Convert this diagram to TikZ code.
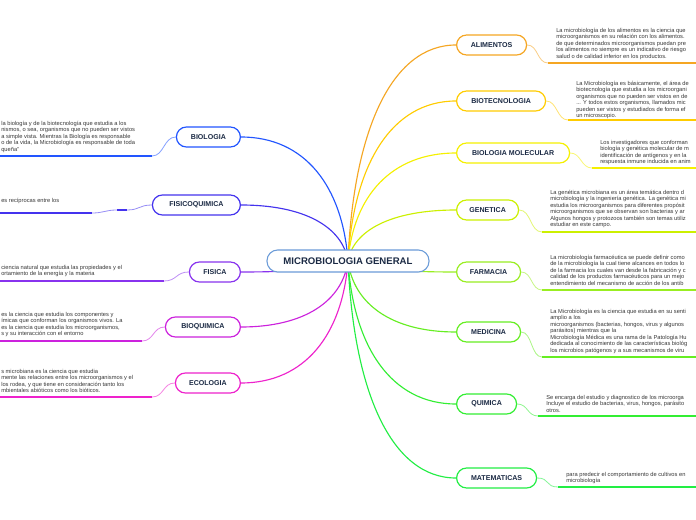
\documentclass[tikz,border=0pt]{standalone}
\usepackage{fontspec}
\setmainfont{Liberation Sans}
\usetikzlibrary{backgrounds}
\definecolor{cRoot}{HTML}{6A9BD8}
\definecolor{cAli}{HTML}{F5A623}
\definecolor{cBiot}{HTML}{FFCC00}
\definecolor{cMol}{HTML}{F5F000}
\definecolor{cGen}{HTML}{CCF000}
\definecolor{cFar}{HTML}{99EE22}
\definecolor{cMed}{HTML}{66EE22}
\definecolor{cQui}{HTML}{33EE33}
\definecolor{cMat}{HTML}{22EE44}
\definecolor{cBio}{HTML}{2255FF}
\definecolor{cFq}{HTML}{4433EE}
\definecolor{cFis}{HTML}{8833EE}
\definecolor{cBq}{HTML}{CC22DD}
\definecolor{cEco}{HTML}{EE22CC}
\definecolor{nodetext}{HTML}{1B2A44}
\definecolor{desctext}{HTML}{383838}
\begin{document}
\begin{tikzpicture}[x=0.75pt,y=-0.75pt,
  topic/.style={draw=#1, fill=white, rounded corners=7.5pt, line width=0.9pt,
    minimum height=15pt, inner sep=0pt, text=nodetext,
    font=\fontsize{5.3}{6}\selectfont\bfseries},
  rootbox/.style={draw=cRoot, fill=white, rounded corners=8pt, line width=0.8pt,
    minimum height=16.5pt, minimum width=121.5pt, inner sep=0pt, text=nodetext,
    font=\fontsize{7.2}{8.5}\selectfont\bfseries},
  desc/.style={font=\fontsize{4.3}{4.85}\selectfont, text=desctext, align=left,
    inner sep=0pt, anchor=north west},
  conn/.style={draw=#1, line width=0.85pt},
  uline/.style={draw=#1, line width=1.5pt},
  subc/.style={draw=#1!55, line width=0.6pt}
]
\useasboundingbox (0,0) rectangle (696,520);

% root
\node[rootbox] (root) at (348,261) {MICROBIOLOGIA GENERAL};
\coordinate (hub) at (348,261);

% right topics
\node[topic=cAli, minimum width=52.5pt, anchor=west] (ali) at (456,45) {ALIMENTOS};
\node[topic=cBiot, minimum width=66.75pt, anchor=west] (biot) at (456,101) {BIOTECNOLOGIA};
\node[topic=cMol, minimum width=84.75pt, anchor=west] (mol) at (456,153) {BIOLOGIA MOLECULAR};
\node[topic=cGen, minimum width=46.5pt, anchor=west] (gen) at (456,210) {GENETICA};
\node[topic=cFar, minimum width=48pt, anchor=west] (far) at (456,272) {FARMACIA};
\node[topic=cMed, minimum width=48pt, anchor=west] (med) at (456,332) {MEDICINA};
\node[topic=cQui, minimum width=45pt, anchor=west] (qui) at (456,404) {QUIMICA};
\node[topic=cMat, minimum width=60pt, anchor=west] (mat) at (456,478) {MATEMATICAS};

% left topics
\node[topic=cBio, minimum width=48pt, anchor=east] (bio) at (241,137) {BIOLOGIA};
\node[topic=cFq, minimum width=66pt, anchor=east] (fq) at (241,205) {FISICOQUIMICA};
\node[topic=cFis, minimum width=38.25pt, anchor=east] (fis) at (241,272) {FISICA};
\node[topic=cBq, minimum width=56.25pt, anchor=east] (bq) at (241,327) {BIOQUIMICA};
\node[topic=cEco, minimum width=48.75pt, anchor=east] (eco) at (241,383) {ECOLOGIA};

% right descriptions
\node[desc] (tali) at (556,28) {La microbiología de los alimentos es la ciencia que\\
microorganismos en su relación con los alimentos.\\
de que determinados microorganismos puedan pre\\
los alimentos no siempre es un indicativo de riesgo\\
salud o de calidad inferior en los productos.};
\node[desc] (tbiot) at (576,81) {La Microbiología es básicamente, el área de\\
biotecnología que estudia a los microorgani\\
organismos que no pueden ser vistos en de\\
... Y todos estos organismos, llamados mic\\
pueden ser vistos y estudiados de forma ef\\
un microscopio.};
\node[desc] (tmol) at (600,140) {Los investigadores que conforman\\
biología y genética molecular de m\\
identificación de antígenos y en la\\
respuesta inmune inducida en anim};
\node[desc] (tgen) at (550,190) {La genética microbiana es un área temática dentro d\\
microbiología y la ingeniería genética. La genética mi\\
estudia los microorganismos para diferentes propósit\\
microorganismos que se observan son bacterias y ar\\
Algunos hongos y protozoos también son temas utiliz\\
estudiar en este campo.};
\node[desc] (tfar) at (550,255) {La microbiología farmacéutica se puede definir como\\
de la microbiología la cual tiene alcances en todos lo\\
de la farmacia los cuales van desde la fabricación y c\\
calidad de los productos farmacéuticos para un mejo\\
entendimiento del mecanismo de acción de los antib};
\node[desc] (tmed) at (550,309) {La Microbiología es la ciencia que estudia en su senti\\
amplio a los\\
microorganismos (bacterias, hongos, virus y algunos\\
parásitos) mientras que la\\
Microbiología Médica es una rama de la Patología Hu\\
dedicada al conocimiento de las características biológ\\
los microbios patógenos y a sus mecanismos de viru};
\node[desc] (tqui) at (546,395) {Se encarga del estudio y diagnostico de los microorga\\
Incluye el estudio de bacterias, virus, hongos, parásito\\
otros.};
\node[desc] (tmat) at (566,472) {para predecir el comportamiento de cultivos en\\
microbiología};

% left descriptions
\node[desc] (tbio) at (1,121) {la biología y de la biotecnología que estudia a los\\
nismos, o sea, organismos que no pueden ser vistos\\
a simple vista. Mientras la Biología es responsable\\
o de la vida, la Microbiología es responsable de toda\\
queña"};
\node[desc] (tfq) at (1,198) {es recíprocas entre los};
\node[desc] (tfis) at (1,265) {ciencia natural que estudia las propiedades y el\\
ortamiento de la energía y la materia};
\node[desc] (tbq) at (1,312) {es la ciencia que estudia los componentes y\\
ímicas que conforman los organismos vivos. La\\
es la ciencia que estudia los microorganismos,\\
s y su interacción con el entorno};
\node[desc] (teco) at (1,369) {s microbiana es la ciencia que estudia\\
mente las relaciones entre los microorganismos y el\\
 los rodea, y que tiene en consideración tanto los\\
mbientales abióticos como los bióticos.};

% underline anchor points
\coordinate (uali) at (548,63);
\coordinate (ubiot) at (568,120);
\coordinate (umol) at (592,168);
\coordinate (ugen) at (542,232);
\coordinate (ufar) at (542,290);
\coordinate (umed) at (542,357);
\coordinate (uqui) at (538,416);
\coordinate (umat) at (558,487);
\coordinate (ubio) at (152,156);
\coordinate (ufqa) at (127,210);
\coordinate (ufqb) at (117,210);
\coordinate (ufq) at (92,213);
\coordinate (ufis) at (164,281);
\coordinate (ubq) at (142,341);
\coordinate (ueco) at (152,397);

\begin{scope}[on background layer]
\fill[white] (0,0) rectangle (696,520);
% main branches right
\draw[conn=cAli] (hub) .. controls (353.4,131.4) and (391.2,45) .. (ali.west);
\draw[conn=cBiot] (hub) .. controls (353.4,165) and (391.2,101) .. (biot.west);
\draw[conn=cMol] (hub) .. controls (353.4,196.2) and (391.2,153) .. (mol.west);
\draw[conn=cGen] (hub) .. controls (353.4,230.4) and (391.2,210) .. (gen.west);
\draw[conn=cFar] (hub) .. controls (353.4,267.6) and (391.2,272) .. (far.west);
\draw[conn=cMed] (hub) .. controls (353.4,303.6) and (391.2,332) .. (med.west);
\draw[conn=cQui] (hub) .. controls (353.4,346.8) and (391.2,404) .. (qui.west);
\draw[conn=cMat] (hub) .. controls (353.4,391.2) and (391.2,478) .. (mat.west);
% main branches left
\draw[conn=cBio] (hub) .. controls (342.65,186.6) and (305.2,137) .. (bio.east);
\draw[conn=cFq] (hub) .. controls (342.65,227.4) and (305.2,205) .. (fq.east);
\draw[conn=cFis] (hub) .. controls (342.65,267.6) and (305.2,272) .. (fis.east);
\draw[conn=cBq] (hub) .. controls (342.65,300.6) and (305.2,327) .. (bq.east);
\draw[conn=cEco] (hub) .. controls (342.65,334.2) and (305.2,383) .. (eco.east);
% sub connectors right
\draw[subc=cAli] (ali.east) .. controls +(11,0) and +(-11,0) .. (uali);
\draw[subc=cBiot] (biot.east) .. controls +(11,0) and +(-11,0) .. (ubiot);
\draw[subc=cMol] (mol.east) .. controls +(11,0) and +(-11,0) .. (umol);
\draw[subc=cGen] (gen.east) .. controls +(12,0) and +(-12,0) .. (ugen);
\draw[subc=cFar] (far.east) .. controls +(11,0) and +(-11,0) .. (ufar);
\draw[subc=cMed] (med.east) .. controls +(11,0) and +(-11,0) .. (umed);
\draw[subc=cQui] (qui.east) .. controls +(11,0) and +(-11,0) .. (uqui);
\draw[subc=cMat] (mat.east) .. controls +(13,0) and +(-13,0) .. (umat);
\draw[uline=cAli] (uali) -- ++(160,0);
\draw[uline=cBiot] (ubiot) -- ++(140,0);
\draw[uline=cMol] (umol) -- ++(120,0);
\draw[uline=cGen] (ugen) -- ++(170,0);
\draw[uline=cFar] (ufar) -- ++(170,0);
\draw[uline=cMed] (umed) -- ++(170,0);
\draw[uline=cQui] (uqui) -- ++(170,0);
\draw[uline=cMat] (umat) -- ++(150,0);
% sub connectors left
\draw[subc=cBio] (bio.west) .. controls +(-12,0) and +(12,0) .. (ubio);
\draw[subc=cFq] (fq.west) .. controls +(-13,0) and +(13,0) .. (ufqa);
\draw[uline=cFq] (ufqa) -- (ufqb);
\draw[subc=cFq] (ufqb) .. controls +(-12,0) and +(12,0) .. (ufq);
\draw[subc=cFis] (fis.west) .. controls +(-13,0) and +(13,0) .. (ufis);
\draw[subc=cBq] (bq.west) .. controls +(-12,0) and +(12,0) .. (ubq);
\draw[subc=cEco] (eco.west) .. controls +(-12,0) and +(12,0) .. (ueco);
\draw[uline=cBio] (ubio) -- ++(-160,0);
\draw[uline=cFq] (ufq) -- ++(-100,0);
\draw[uline=cFis] (ufis) -- ++(-170,0);
\draw[uline=cBq] (ubq) -- ++(-150,0);
\draw[uline=cEco] (ueco) -- ++(-160,0);
\end{scope}
\end{tikzpicture}
\end{document}
